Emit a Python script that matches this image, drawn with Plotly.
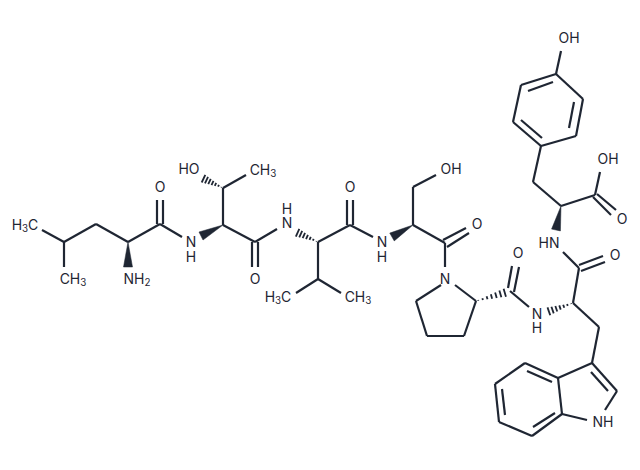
from plotly import graph_objects as go

INK = "#1f2633"

# bonds as x1, y1, x2, y2
leu_bonds = [
    (42, 230, 64, 242), (64, 242, 64, 267), (64, 242, 96, 224), (96, 224, 128, 242),
    (128, 242, 160, 224), (157, 224, 157, 200), (163, 224, 163, 200), (160, 224, 182, 237),
]
thr_bonds = [
    (223, 225, 223, 188), (223, 188, 246, 175), (223, 225, 255, 242),
    (252, 242, 252, 267), (258, 242, 258, 267), (255, 242, 277, 229),
]
val_bonds = [
    (318, 242, 350, 225), (347, 225, 347, 200), (353, 225, 353, 200), (350, 225, 373, 237),
    (318, 242, 318, 279), (318, 279, 296, 293), (318, 279, 341, 293),
]
ser_bonds = [
    (413, 225, 413, 187), (413, 187, 436, 175), (413, 225, 445, 243),
    (443, 240, 466, 228), (447, 247, 469, 233), (445, 243, 445, 267),
]
pro_bonds = [
    (441, 285, 416, 301), (416, 301, 427, 336), (427, 336, 464, 336), (464, 336, 476, 301),
    (476, 301, 455, 285), (508, 288, 512, 266), (514, 292, 519, 267), (510, 291, 529, 307),
]
trp_bonds = [
    (573, 303, 579, 268), (579, 265, 603, 256), (581, 271, 605, 262), (579, 268, 563, 252),
    (573, 303, 599, 327), (599, 327, 592, 363), (592, 363, 617, 391), (591, 372, 608, 391),
    (617, 391, 605, 410), (587, 420, 562, 414), (562, 414, 558, 378), (558, 378, 592, 363),
    (558, 378, 525, 363), (525, 363, 495, 384), (495, 384, 499, 422), (499, 422, 532, 436),
    (532, 436, 562, 414), (527, 371, 552, 382), (502, 389, 505, 415), (533, 427, 555, 413),
]
tyr_bonds = [
    (561, 51, 556, 74), (556, 74, 583, 99), (583, 99, 576, 136), (576, 136, 541, 146),
    (541, 146, 513, 122), (513, 122, 521, 85), (521, 85, 556, 74), (528, 91, 553, 82),
    (574, 102, 569, 128), (521, 120, 542, 138), (541, 146, 533, 182), (533, 182, 561, 206),
    (561, 206, 595, 195), (595, 195, 600, 172), (593, 197, 611, 215), (597, 194, 616, 210),
]

# stereo bonds go from the narrow end to the wide end
wedges = [
    (128, 242, 128, 267), (223, 225, 201, 236), (413, 225, 392, 237), (561, 206, 556, 230),
]
hashes = [
    (223, 188, 202, 178), (318, 242, 296, 232), (476, 301, 507, 292), (573, 303, 547, 312),
]

label_text = [
    "H<sub>3</sub>C", "CH<sub>3</sub>", "NH<sub>2</sub>", "O", "N", "H", "HO", "CH<sub>3</sub>", "O", "N", "H",
    "O", "H<sub>3</sub>C", "CH<sub>3</sub>", "N", "H", "OH", "O", "N", "O", "N", "H", "HN", "O",
    "NH", "OH", "OH", "O",
]
label_x = [
    25, 73, 137, 160, 191, 191, 189, 263, 255, 287, 287,
    350, 278, 358, 382, 382, 451, 477, 445, 518, 537, 537, 549, 615,
    603, 569, 608, 622,
]
label_y = [
    226, 280, 280, 188, 243, 258, 170, 171, 280, 224, 210,
    188, 298, 298, 243, 258, 170, 225, 280, 254, 315, 329, 244, 256,
    423, 39, 160, 220,
]

WEDGE_WIDTH = 9
# the page body keeps its 8px margin, so the axes start at 8
PAGE_MARGIN = 8


def side_step(x1, y1, x2, y2, half):
    length = ((x2 - x1) ** 2 + (y2 - y1) ** 2) ** 0.5
    return -(y2 - y1) / length * half, (x2 - x1) / length * half


fig = go.Figure()

xs, ys = [], []
for group in (leu_bonds, thr_bonds, val_bonds, ser_bonds, pro_bonds, trp_bonds, tyr_bonds):
    for x1, y1, x2, y2 in group:
        xs += [x1, x2, None]
        ys += [y1, y2, None]
fig.add_trace(go.Scatter(x=xs, y=ys, mode="lines", line=dict(color=INK, width=2.2, shape="linear"),
                         hoverinfo="skip"))

for x1, y1, x2, y2 in wedges:
    dx, dy = side_step(x1, y1, x2, y2, WEDGE_WIDTH / 2)
    fig.add_trace(go.Scatter(x=[x1, x2 + dx, x2 - dx, x1], y=[y1, y2 + dy, y2 - dy, y1],
                             mode="lines", fill="toself", fillcolor=INK,
                             line=dict(color=INK, width=0.5), hoverinfo="skip"))

for x1, y1, x2, y2 in hashes:
    hx, hy = [], []
    stripes = 7
    for i in range(stripes):
        t = (i + 0.5) / stripes
        cx, cy = x1 + (x2 - x1) * t, y1 + (y2 - y1) * t
        dx, dy = side_step(x1, y1, x2, y2, WEDGE_WIDTH / 2 * t)
        hx += [cx + dx, cx - dx, None]
        hy += [cy + dy, cy - dy, None]
    fig.add_trace(go.Scatter(x=hx, y=hy, mode="lines", line=dict(color=INK, width=1.8), hoverinfo="skip"))

fig.add_trace(go.Scatter(x=label_x, y=label_y, text=label_text, mode="text", textposition="middle center",
                         textfont=dict(family="Inter", size=14, color=INK), hoverinfo="skip"))

fig.update_xaxes(range=[PAGE_MARGIN, 640], visible=False)
fig.update_yaxes(range=[470, PAGE_MARGIN], visible=False)
fig.update_layout(width=640 - PAGE_MARGIN, height=470 - PAGE_MARGIN, margin=dict(l=0, r=0, t=0, b=0),
                  showlegend=False, plot_bgcolor="white", paper_bgcolor="white")
fig.write_html("out.html")
